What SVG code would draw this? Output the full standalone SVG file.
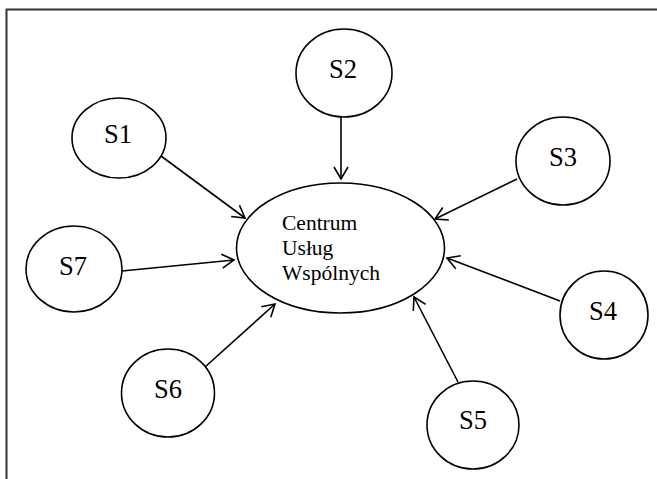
<svg xmlns="http://www.w3.org/2000/svg" width="657" height="479" viewBox="0 0 657 479">
<defs>
<marker id="arr" markerUnits="userSpaceOnUse" markerWidth="20" markerHeight="20" viewBox="-14 -10 16 20" refX="0" refY="0" orient="auto">
<path d="M-12,-7 L0,0 L-12,7" fill="none" stroke="#000" stroke-width="1.6"/>
</marker>
</defs>
<style>
.n{fill:#fff;stroke:#000;stroke-width:1.6}
.t{font-family:"Liberation Serif","Times New Roman",serif;fill:#000}
.s{font-size:26.5px;text-anchor:middle}
.c{font-size:21.5px}
.e{stroke:#000;stroke-width:1.6;fill:none;marker-end:url(#arr)}
</style>
<rect width="657" height="479" fill="#fff"/>
<path d="M6.5,479 V9.5 H657" fill="none" stroke="#333" stroke-width="2"/>
<g id="connectors">
<line class="e" x1="161" y1="156" x2="245" y2="218"/>
<line class="e" x1="341" y1="117" x2="341" y2="179"/>
<line class="e" x1="517" y1="179" x2="435" y2="219"/>
<line class="e" x1="560" y1="301" x2="447" y2="258"/>
<line class="e" x1="458" y1="382" x2="414" y2="297"/>
<line class="e" x1="205" y1="367" x2="275" y2="304"/>
<line class="e" x1="122" y1="271" x2="234" y2="260"/>
</g>
<g id="center">
<ellipse class="n" cx="340.5" cy="248" rx="104" ry="65"/>
<text class="t c" x="282" y="230">Centrum</text>
<text class="t c" x="282" y="255">Usług</text>
<text class="t c" x="282" y="280">Wspólnych</text>
</g>
<g id="S1"><ellipse class="n" cx="119" cy="138" rx="47" ry="40"/><text class="t s" x="118" y="143">S1</text></g>
<g id="S2"><ellipse class="n" cx="344" cy="73" rx="48" ry="44"/><text class="t s" x="343" y="78">S2</text></g>
<g id="S3"><ellipse class="n" cx="563" cy="161" rx="47" ry="44"/><text class="t s" x="563" y="166">S3</text></g>
<g id="S4"><ellipse class="n" cx="604" cy="315" rx="44" ry="44"/><text class="t s" x="603" y="320">S4</text></g>
<g id="S5"><ellipse class="n" cx="473" cy="425" rx="46" ry="44"/><text class="t s" x="473" y="429">S5</text></g>
<g id="S6"><ellipse class="n" cx="168" cy="393" rx="46.5" ry="44"/><text class="t s" x="168" y="398">S6</text></g>
<g id="S7"><ellipse class="n" cx="74" cy="269" rx="48" ry="43"/><text class="t s" x="73" y="275">S7</text></g>
</svg>
